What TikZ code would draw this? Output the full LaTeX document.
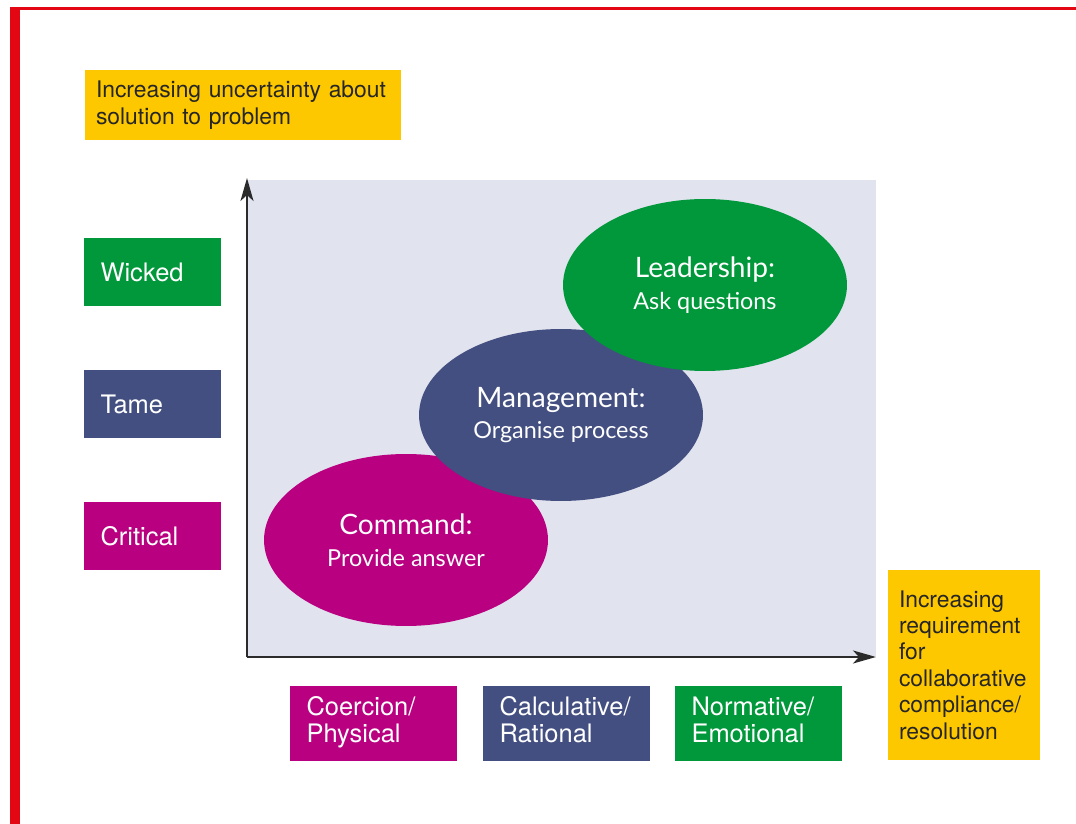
\documentclass[tikz,border=0pt]{standalone}
\usepackage{fontspec}
\setmainfont{TeX Gyre Heros}
\newfontfamily\ovalfont{Lato}
\usetikzlibrary{shapes.geometric,arrows.meta}
\definecolor{framered}{HTML}{E30613}
\definecolor{notegold}{HTML}{FEC800}
\definecolor{wickedgreen}{HTML}{00983A}
\definecolor{tameblue}{HTML}{434F80}
\definecolor{critpink}{HTML}{B80080}
\definecolor{plotgrey}{HTML}{E1E3EE}
\definecolor{axisgrey}{HTML}{2B2B2B}
\tikzset{
  note/.style={fill=notegold, text=black!85, inner xsep=0.22cm, inner ysep=0pt, align=left,
    font=\fontsize{13}{15}\selectfont},
  tag/.style={text=white, inner xsep=0.33cm, inner ysep=0pt, align=left,
    font=\fontsize{14.5}{15.5}\selectfont},
  sidetag/.style={tag, text width=2.08cm, minimum width=2.74cm, minimum height=1.36cm},
  basetag/.style={tag, text width=2.68cm, minimum width=3.34cm, minimum height=1.5cm},
  oval/.style={ellipse, text=white, minimum width=5.68cm, minimum height=3.44cm, inner sep=0pt,
    align=center, font=\ovalfont\fontsize{16}{19}\selectfont},
  axis/.style={draw=axisgrey, line width=1.1pt, -{Stealth[length=0.46cm,width=0.26cm,inset=0.12cm]}}
}
\begin{document}
\begin{tikzpicture}[x=0.02cm, y=-0.02cm]
\useasboundingbox (0,0) rectangle (1076,824);
% frame
\fill[framered] (10,7) rectangle (20,824);
\fill[framered] (10,7) rectangle (1076,9.8);
% plot area
\fill[plotgrey] (248,180) rectangle (876,656);
\coordinate (o) at (247,657);
\coordinate (ytop) at (247,178);
\coordinate (xend) at (876,657);
\draw[axis] (o) -- (ytop);
\draw[axis] (o) -- (xend);
% ovals
\node (command) at (406,540) [oval, fill=critpink] {Command:\\[-1pt]{\fontsize{13.3}{15}\selectfont Provide answer}};
\node (management) at (561,415) [oval, fill=tameblue] {Management:\\[-1pt]{\fontsize{13.3}{15}\selectfont Organise process}};
\node (leadership) at (705,285) [oval, fill=wickedgreen] {Leadership:\\[-1pt]{\fontsize{13.3}{15}\selectfont Ask questions}};
% notes
\node (uncert) at (243,105) [note, text width=5.88cm, minimum height=1.4cm] {Increasing uncertainty about\\solution to problem};
\node (collab) at (964,665) [note, text width=2.6cm, minimum height=3.8cm] {Increasing\\requirement\\for\\collaborative\\compliance/\\resolution};
% problem types
\node (wicked) at (152.5,272) [sidetag, fill=wickedgreen] {Wicked};
\node (tame) at (152.5,404) [sidetag, fill=tameblue] {Tame};
\node (critical) at (152.5,536) [sidetag, fill=critpink] {Critical};
% power types
\node (coercion) at (373.5,723.5) [basetag, fill=critpink] {\strut Coercion/\\\strut Physical};
\node (calculative) at (566.5,723.5) [basetag, fill=tameblue] {\strut Calculative/\\\strut Rational};
\node (normative) at (758.5,723.5) [basetag, fill=wickedgreen] {\strut Normative/\\\strut Emotional};
\end{tikzpicture}
\end{document}
